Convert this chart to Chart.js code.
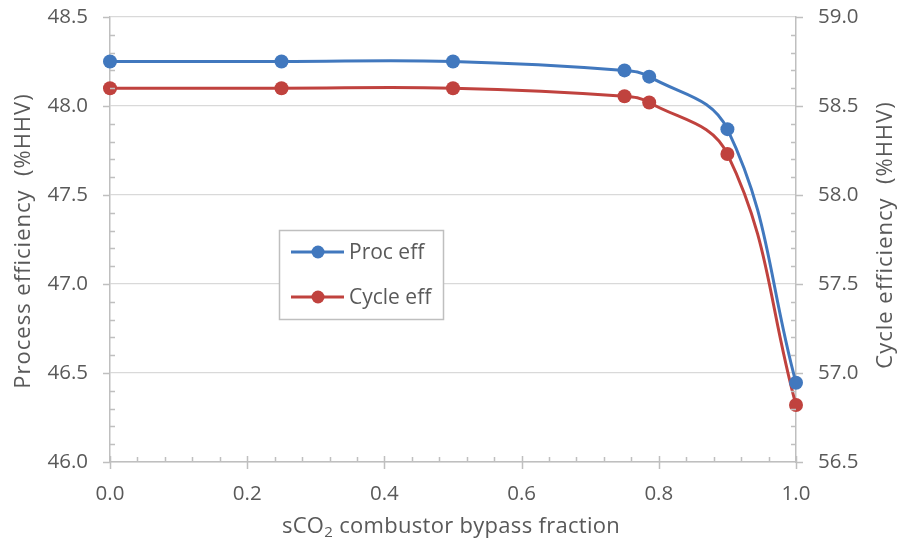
<!DOCTYPE html>
<html>
<head>
<meta charset="utf-8">
<script src="https://cdn.jsdelivr.net/npm/chart.js@4.4.1/dist/chart.umd.min.js"></script>
<style>
html,body{margin:0;padding:0;background:#fff;}
#wrap{width:900px;height:546px;position:relative;}
</style>
</head>
<body>
<div id="wrap"><canvas id="c" width="900" height="546"></canvas></div>
<script>
// ---- data ----
const bypassFraction = [0, 0.25, 0.5, 0.75, 0.786, 0.9, 1.0];
const procEff  = [48.25, 48.25, 48.25, 48.20, 48.165, 47.87, 46.445];
const cycleEff = [58.60, 58.60, 58.60, 58.555, 58.52, 58.23, 56.82];
const seriesNames = ['Proc eff', 'Cycle eff'];
const xTitleParts = ['sCO', '2', ' combustor bypass fraction'];
const leftTitle = 'Process efficiency  (%HHV)';
const rightTitle = 'Cycle efficiency  (%HHV)';

const FONT = '"Open Sans", "Liberation Sans", sans-serif';
const TXT = '#595959';
const BLUE = '#4178BE';
const RED = '#C0423E';
const AXIS = '#BFBFBF';
const GRID = '#D9D9D9';

const toXY = (xs, ys) => xs.map((x, i) => ({x: x, y: ys[i]}));

const extras = {
  id: 'extras',
  afterDraw(chart) {
    const ctx = chart.ctx;
    const a = chart.chartArea;
    const sx = chart.scales.x, yl = chart.scales.y, yr = chart.scales.y2;
    ctx.save();
    ctx.strokeStyle = AXIS;
    ctx.lineWidth = 1.5;
    ctx.beginPath();
    for (let i = 0; i <= 25; i++) {
      const px = Math.round(sx.getPixelForValue(i * 0.04)) + 0.5;
      if (i % 5 === 0) { ctx.moveTo(px, a.bottom - 6); ctx.lineTo(px, a.bottom + 7); }
      else { ctx.moveTo(px, a.bottom); ctx.lineTo(px, a.bottom - 5); }
    }
    for (let i = 0; i <= 25; i++) {
      const py = Math.round(yl.getPixelForValue(46 + i * 0.1)) + 0.5;
      if (i % 5 === 0) { ctx.moveTo(a.left - 7, py); ctx.lineTo(a.left, py); }
      else { ctx.moveTo(a.left, py); ctx.lineTo(a.left + 5, py); }
    }
    for (let i = 0; i <= 25; i++) {
      const py = Math.round(yr.getPixelForValue(56.5 + i * 0.1)) + 0.5;
      if (i % 5 === 0) { ctx.moveTo(a.right, py); ctx.lineTo(a.right + 7, py); }
      else { ctx.moveTo(a.right, py); ctx.lineTo(a.right - 5, py); }
    }
    ctx.stroke();

    // axis titles
    ctx.fillStyle = TXT;
    ctx.textBaseline = 'middle';
    ctx.textAlign = 'center';
    ctx.font = '22px ' + FONT;
    ctx.letterSpacing = '1px';
    ctx.save(); ctx.translate(24, 241); ctx.rotate(-Math.PI / 2); ctx.fillText(leftTitle, 0, 0); ctx.restore();
    ctx.save(); ctx.translate(886, 235); ctx.rotate(-Math.PI / 2); ctx.fillText(rightTitle, 0, 0); ctx.restore();

    // x title with subscript
    ctx.letterSpacing = '0.3px';
    const big = '22px ' + FONT, small = '15px ' + FONT;
    ctx.font = big; const w0 = ctx.measureText(xTitleParts[0]).width;
    const w2 = ctx.measureText(xTitleParts[2]).width;
    ctx.font = small; const w1 = ctx.measureText(xTitleParts[1]).width;
    const total = w0 + w1 + w2;
    let x0 = 451 - total / 2;
    const ty = 527;
    ctx.textAlign = 'left';
    ctx.font = big; ctx.fillText(xTitleParts[0], x0, ty);
    ctx.font = small; ctx.fillText(xTitleParts[1], x0 + w0, ty + 6);
    ctx.font = big; ctx.fillText(xTitleParts[2], x0 + w0 + w1, ty);
    ctx.letterSpacing = '0px';

    // legend box
    const lx = 279.5, ly = 230.5, lw = 164, lh = 89;
    ctx.fillStyle = '#fff';
    ctx.fillRect(lx, ly, lw, lh);
    ctx.strokeStyle = AXIS; ctx.lineWidth = 1.5;
    ctx.strokeRect(lx, ly, lw, lh);
    const items = [
      {label: chart.data.datasets[0].label, color: chart.data.datasets[0].borderColor, y: 252},
      {label: chart.data.datasets[1].label, color: chart.data.datasets[1].borderColor, y: 297}
    ];
    ctx.font = '21px ' + FONT;
    ctx.textAlign = 'left';
    items.forEach(it => {
      ctx.strokeStyle = it.color; ctx.lineWidth = 3;
      ctx.beginPath(); ctx.moveTo(291, it.y); ctx.lineTo(344, it.y); ctx.stroke();
      ctx.fillStyle = it.color;
      ctx.beginPath(); ctx.arc(318, it.y, 6.5, 0, Math.PI * 2); ctx.fill();
      ctx.fillStyle = TXT;
      ctx.fillText(it.label, 349, it.y + 1);
    });
    ctx.restore();
  }
};

const tickFont = {family: FONT, size: 20.5};
const fmt = v => Number(v).toFixed(1);

new Chart(document.getElementById('c'), {
  type: 'line',
  data: {
    datasets: [
      {label: seriesNames[0], data: toXY(bypassFraction, procEff), yAxisID: 'y',
       borderColor: BLUE, backgroundColor: BLUE, borderWidth: 3,
       pointRadius: 7, pointHoverRadius: 7, pointBorderWidth: 0, tension: 0.4, order: 1},
      {label: seriesNames[1], data: toXY(bypassFraction, cycleEff), yAxisID: 'y2',
       borderColor: RED, backgroundColor: RED, borderWidth: 3,
       pointRadius: 7, pointHoverRadius: 7, pointBorderWidth: 0, tension: 0.4, order: 2}
    ]
  },
  options: {
    responsive: false,
    animation: false,
    clip: false,
    layout: {padding: {top: 17, left: 0, right: 0, bottom: 0}},
    plugins: {legend: {display: false}, tooltip: {enabled: false}},
    scales: {
      x: {
        type: 'linear', min: 0, max: 1,
        afterFit(s) { s.height = 84; s.paddingLeft = 0; s.paddingRight = 0; },
        grid: {display: false, drawTicks: false},
        border: {display: true, color: AXIS, width: 1.5},
        ticks: {stepSize: 0.2, padding: 20, color: TXT, font: tickFont, callback: fmt}
      },
      y: {
        position: 'left', min: 46, max: 48.5,
        afterFit(s) { s.width = 110; s.paddingTop = 0; s.paddingBottom = 0; },
        grid: {display: true, color: GRID, lineWidth: 1.2, drawTicks: false},
        border: {display: true, color: AXIS, width: 1.5},
        ticks: {stepSize: 0.5, padding: 22, color: TXT, font: tickFont, callback: fmt}
      },
      y2: {
        position: 'right', min: 56.5, max: 59,
        afterFit(s) { s.width = 104; s.paddingTop = 0; s.paddingBottom = 0; },
        grid: {display: false, drawTicks: false},
        border: {display: true, color: AXIS, width: 1.5},
        ticks: {stepSize: 0.5, padding: 22, color: TXT, font: tickFont, callback: fmt}
      }
    }
  },
  plugins: [extras]
});
</script>
</body>
</html>
